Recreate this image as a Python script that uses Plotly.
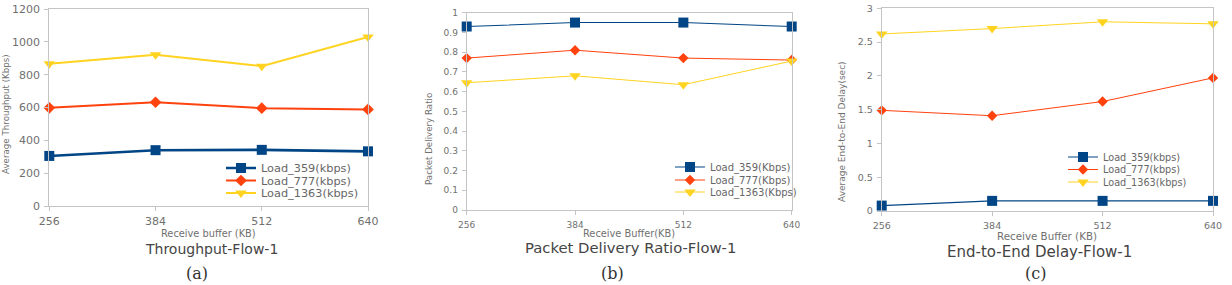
import plotly.graph_objects as go

W, H = 1232, 285

# ---------------- data ----------------
buffer_kb = [256, 384, 512, 640]

names_a = ["Load_359(kbps)", "Load_777(kbps)", "Load_1363(kbps)"]
names_b = ["Load_359(Kbps)", "Load_777(Kbps)", "Load_1363(Kbps)"]
names_c = ["Load_359(kbps)", "Load_777(kbps)", "Load_1363(kbps)"]

throughput_359 = [305, 340, 342, 333]
throughput_777 = [598, 632, 596, 588]
throughput_1363 = [866, 922, 852, 1030]

pdr_359 = [0.93, 0.95, 0.95, 0.93]
pdr_777 = [0.77, 0.81, 0.77, 0.76]
pdr_1363 = [0.645, 0.68, 0.635, 0.755]

delay_359 = [0.08, 0.15, 0.15, 0.15]
delay_777 = [1.49, 1.41, 1.62, 1.97]
delay_1363 = [2.62, 2.70, 2.80, 2.77]

panel_titles = ["Throughput-Flow-1", "Packet Delivery Ratio-Flow-1", "End-to-End Delay-Flow-1"]
x_titles = ["Receive buffer (KB)", "Receive Buffer(KB)", "Receive Buffer (KB)"]
y_titles = ["Average Throughput (Kbps)", "Packet Delivery Ratio", "Average End-to-End Delay(sec)"]
panel_letters = ["(a)", "(b)", "(c)"]

# ---------------- style ----------------
colors = ["#004586", "#ff420e", "#ffd320"]
symbols = ["square", "diamond", "triangle-down"]
FONT = "DejaVu Sans"
TICK_COLOR = "#707070"
AX_COLOR = "#c4c4c4"


def px(x):
    return x / W


def py(y):
    return 1 - y / H


# pixel geometry of the three plot areas: (left, right, top, bottom)
boxes = [(49.3, 368, 9, 206), (466.7, 791.7, 12.7, 210), (881.7, 1213, 8.3, 211)]
yranges = [[0, 1200], [0, 1], [0, 3]]
ydticks = [200, 0.1, 0.5]
tick_sizes = [11, 9, 9.5]
xtick_standoff = [1, 2, 2]
line_widths = [[2.6, 2, 2], [1.1, 1, 1], [1.1, 1, 1]]
marker_sizes = [[10, 9, 10], [10, 8, 10], [10, 8, 10]]
legend_font = [11.3, 10, 9.7]
legend_x = [226, 675, 1068]
legend_y = [[168, 180.5, 193], [167, 180, 192], [157, 169.5, 182]]
xtitle_y = [233, 233, 236]
xtitle_size = [9.8, 9.8, 10.3]
ytitle_pos = [(6, 114, 8.7), (429, 139, 8.7), (842, 132, 9)]
sub_pos = [(211, 249), (630, 247), (1039, 252)]
sub_size = [14, 14.8, 15]
letter_x = [197, 612, 1035]

series = [
    [throughput_359, throughput_777, throughput_1363],
    [pdr_359, pdr_777, pdr_1363],
    [delay_359, delay_777, delay_1363],
]
names = [names_a, names_b, names_c]

fig = go.Figure()
layout = dict(
    width=W, height=H, margin=dict(l=0, r=0, t=0, b=0, autoexpand=False),
    paper_bgcolor="white", plot_bgcolor="white",
    font=dict(family=FONT, color=TICK_COLOR),
    showlegend=True,
)
annotations = []

for p in range(3):
    xa = "x" if p == 0 else f"x{p + 1}"
    ya = "y" if p == 0 else f"y{p + 1}"
    l, r, t, b = boxes[p]
    for s in range(3):
        leg_name = f"legend{p * 3 + s + 1}" if (p * 3 + s) > 0 else "legend"
        fig.add_trace(go.Scatter(
            x=buffer_kb, y=series[p][s], name=names[p][s],
            mode="lines+markers", xaxis=xa, yaxis=ya,
            line=dict(color=colors[s], width=line_widths[p][s]),
            marker=dict(symbol=symbols[s], size=marker_sizes[p][s], color=colors[s]),
            cliponaxis=False, legend=leg_name,
        ))
        layout[leg_name] = dict(
            x=px(legend_x[p] - 5), y=py(legend_y[p][s]), xanchor="left", yanchor="middle",
            bgcolor="rgba(0,0,0,0)", borderwidth=0,
            font=dict(family=FONT, size=legend_font[p], color="#666666"),
            itemwidth=30, tracegroupgap=0,
        )
    xkey = "xaxis" if p == 0 else f"xaxis{p + 1}"
    ykey = "yaxis" if p == 0 else f"yaxis{p + 1}"
    layout[xkey] = dict(
        domain=[px(l), px(r)], anchor=ya, range=[256, 640],
        tickvals=buffer_kb, ticktext=[str(v) for v in buffer_kb],
        showgrid=False, zeroline=False, showline=True, linecolor=AX_COLOR, linewidth=1,
        mirror=True, ticks="outside", ticklen=4, tickcolor=AX_COLOR,
        tickfont=dict(family=FONT, size=tick_sizes[p], color=TICK_COLOR),
        ticklabelstandoff=xtick_standoff[p],
    )
    layout[ykey] = dict(
        domain=[py(b), py(t)], anchor=xa, range=yranges[p], dtick=ydticks[p], tick0=0,
        showgrid=False, zeroline=False, showline=True, linecolor=AX_COLOR, linewidth=1,
        mirror=True, ticks="outside", ticklen=4, tickcolor=AX_COLOR,
        tickfont=dict(family=FONT, size=tick_sizes[p], color=TICK_COLOR),
        ticklabelstandoff=2,
    )
    # x-axis title
    annotations.append(dict(
        text=x_titles[p], xref="paper", yref="paper",
        x=px((l + r) / 2), y=py(xtitle_y[p]), xanchor="center", yanchor="middle",
        showarrow=False, font=dict(family=FONT, size=xtitle_size[p], color="#707070"),
    ))
    # y-axis title
    yx, yy, ys = ytitle_pos[p]
    annotations.append(dict(
        text=y_titles[p], xref="paper", yref="paper",
        x=px(yx), y=py(yy), xanchor="center", yanchor="middle", textangle=-90,
        showarrow=False, font=dict(family=FONT, size=ys, color="#707070"),
    ))
    # panel subtitle
    sx, sy = sub_pos[p]
    annotations.append(dict(
        text=panel_titles[p], xref="paper", yref="paper",
        x=px(sx), y=py(sy), xanchor="center", yanchor="middle",
        showarrow=False, font=dict(family=FONT, size=sub_size[p], color="#444444"),
    ))
    # panel letter
    annotations.append(dict(
        text=panel_letters[p], xref="paper", yref="paper",
        x=px(letter_x[p]), y=py(273), xanchor="center", yanchor="middle",
        showarrow=False, font=dict(family="DejaVu Serif", size=16, color="#333333"),
    ))

layout["annotations"] = annotations
fig.update_layout(**layout)
fig.write_html("out.html")
